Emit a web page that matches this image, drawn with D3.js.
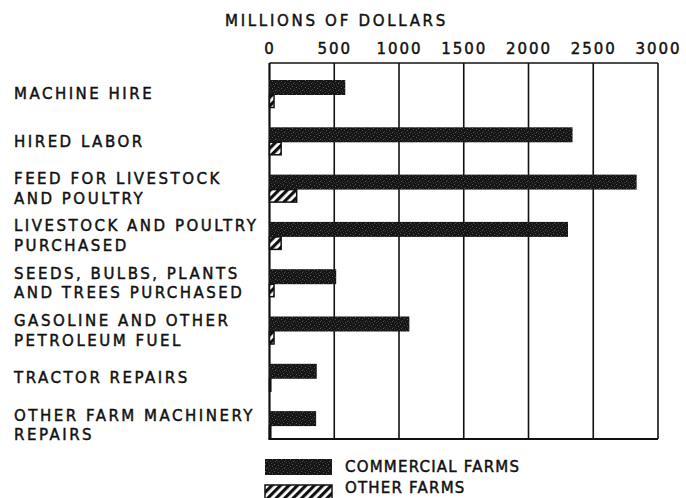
<!DOCTYPE html>
<html>
<head>
<meta charset="utf-8">
<script src="https://cdn.jsdelivr.net/npm/d3@7/dist/d3.min.js"></script>
<style>
  html, body { margin: 0; padding: 0; background: #fff; }
  svg { display: block; }
  text { font-family: "DejaVu Sans", sans-serif; fill: #111; stroke: #111; stroke-width: 0.45px; }
</style>
</head>
<body>
<svg id="chart" width="686" height="498"></svg>
<script>
// Farm expenditures, millions of dollars
const categories = [
  ["MACHINE HIRE"],
  ["HIRED LABOR"],
  ["FEED FOR LIVESTOCK", "AND POULTRY"],
  ["LIVESTOCK AND POULTRY", "PURCHASED"],
  ["SEEDS, BULBS, PLANTS", "AND TREES PURCHASED"],
  ["GASOLINE AND OTHER", "PETROLEUM FUEL"],
  ["TRACTOR REPAIRS"],
  ["OTHER FARM MACHINERY", "REPAIRS"]
];
const commercialFarms = [585, 2340, 2835, 2305, 515, 1080, 365, 360];
const otherFarms = [35, 90, 210, 90, 35, 35, 10, 10];
const tickValues = [0, 500, 1000, 1500, 2000, 2500, 3000];
const seriesNames = ["COMMERCIAL FARMS", "OTHER FARMS"];
const axisTitle = "MILLIONS OF DOLLARS";

const svg = d3.select("#chart");
const plot = { left: 269.5, right: 658, top: 63, bottom: 439 };

const x = d3.scaleLinear().domain([0, 3000]).range([plot.left, plot.right]);
const y = d3.scaleBand()
  .domain(d3.range(categories.length))
  .range([80, 80 + 47.3 * categories.length])
  .padding(0);

const barH = 15, otherH = 12.5;

// Fill patterns: stippled black for commercial, diagonal hatch for other
const defs = svg.append("defs");
const stip = defs.append("pattern")
  .attr("id", "stipple").attr("patternUnits", "userSpaceOnUse")
  .attr("width", 9).attr("height", 7);
stip.append("rect").attr("width", 9).attr("height", 7).attr("fill", "#161616");
[[1,1],[4,2],[7,0],[2,4],[6,5],[8,3],[0,6],[5,6],[3,0]].forEach(([a, b], i) => {
  stip.append("rect").attr("x", a).attr("y", b).attr("width", 1).attr("height", 1)
    .attr("fill", i % 2 ? "#555" : "#3a3a3a");
});
const hatch = defs.append("pattern")
  .attr("id", "hatch").attr("patternUnits", "userSpaceOnUse")
  .attr("width", 6).attr("height", 6)
  .attr("patternTransform", "rotate(45)");
hatch.append("rect").attr("width", 6).attr("height", 6).attr("fill", "#fff");
hatch.append("rect").attr("width", 3.2).attr("height", 6).attr("fill", "#111");

// Axis title
svg.append("text")
  .attr("x", 225).attr("y", 25.5)
  .attr("font-size", 15).attr("letter-spacing", 2.7)
  .text(axisTitle);

// Top axis with full-height gridlines
const axis = d3.axisTop(x).tickValues(tickValues).tickSize(0).tickPadding(0).tickFormat(d3.format("d"));
const gAxis = svg.append("g").attr("transform", `translate(0,${plot.top})`).call(axis);
gAxis.select(".domain").remove();
gAxis.selectAll("text")
  .attr("y", -9)
  .attr("font-size", 15)
  .attr("letter-spacing", 2)
  .attr("font-family", "DejaVu Sans, sans-serif")
  .attr("fill", "#111");

svg.append("g").selectAll("line").data(tickValues).join("line")
  .attr("x1", d => x(d)).attr("x2", d => x(d))
  .attr("y1", plot.top).attr("y2", plot.bottom)
  .attr("stroke", "#111").attr("stroke-width", d => d === 0 ? 2.2 : 1.6);

svg.append("line")
  .attr("x1", plot.left).attr("x2", plot.right)
  .attr("y1", plot.top).attr("y2", plot.top)
  .attr("stroke", "#111").attr("stroke-width", 1.6);
svg.append("line")
  .attr("x1", plot.left - 1).attr("x2", plot.right)
  .attr("y1", plot.bottom).attr("y2", plot.bottom)
  .attr("stroke", "#111").attr("stroke-width", 2);

// Bars
const groups = svg.append("g").selectAll("g").data(categories).join("g");
groups.append("rect")
  .attr("x", x(0))
  .attr("y", (d, i) => y(i))
  .attr("width", (d, i) => x(commercialFarms[i]) - x(0))
  .attr("height", barH)
  .attr("fill", "url(#stipple)");
groups.append("rect")
  .attr("x", x(0))
  .attr("y", (d, i) => y(i) + barH)
  .attr("width", (d, i) => x(otherFarms[i]) - x(0))
  .attr("height", otherH)
  .attr("fill", "url(#hatch)")
  .attr("stroke", "#111").attr("stroke-width", 1.5);

// Category labels, centred on each pair of bars
const lineH = 19.5;
groups.each(function (lines, i) {
  const cy = y(i) + (barH + otherH) / 2;
  const first = cy - (lines.length - 1) * lineH / 2 + 5.5;
  d3.select(this).selectAll("text.cat").data(lines).join("text")
    .attr("class", "cat")
    .attr("x", 14)
    .attr("y", (t, j) => first + j * lineH)
    .attr("font-size", 15)
    .attr("letter-spacing", 2.5)
    .text(t => t);
});

// Legend
const legend = svg.append("g");
legend.append("rect").attr("x", 265).attr("y", 459).attr("width", 67).attr("height", 16)
  .attr("fill", "url(#stipple)");
legend.append("rect").attr("x", 265).attr("y", 485).attr("width", 67).attr("height", 14)
  .attr("fill", "url(#hatch)").attr("stroke", "#111").attr("stroke-width", 1.5);
legend.selectAll("text").data(seriesNames).join("text")
  .attr("x", 345)
  .attr("y", (d, i) => 472 + i * 21)
  .attr("font-size", 15)
  .attr("letter-spacing", 1.2)
  .text(d => d);
</script>
</body>
</html>
